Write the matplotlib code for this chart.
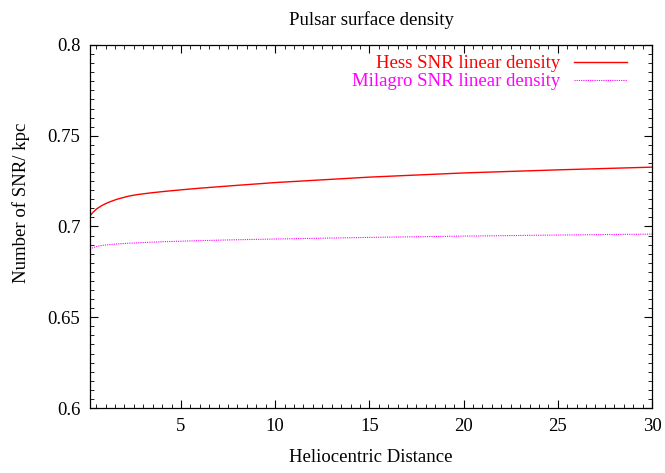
import numpy as np
import matplotlib
matplotlib.use('Agg')
import matplotlib.pyplot as plt
from matplotlib.ticker import MultipleLocator

# valores
dist = [0.17, 0.3, 0.5, 0.7, 0.9, 1.2, 1.6, 2.25, 2.7, 3.3, 4.0, 5.0, 6.0, 7.5, 10.0, 15.0, 20.0, 25.0, 30.0]
hess = [0.7058, 0.7075, 0.7095, 0.7109, 0.7121, 0.7135, 0.7150, 0.7168, 0.7176, 0.7184, 0.7192, 0.7202, 0.7211,
        0.7223, 0.7242, 0.7272, 0.7295, 0.7312, 0.7327]
milagro = [0.6876, 0.6882, 0.6889, 0.6894, 0.6897, 0.6900, 0.6904, 0.6908, 0.6910, 0.6913, 0.6916, 0.6919, 0.6922,
           0.6926, 0.6931, 0.6940, 0.6947, 0.6953, 0.6958]

plt.rcParams['font.family'] = ['Liberation Serif', 'DejaVu Serif']
fs = 13.5

fig = plt.figure(figsize=(6.65, 4.73), dpi=100)
ax = fig.add_axes([0.1353, 0.1374, 0.8451, 0.7675])

ax.plot(dist, hess, color='#ff0000', lw=1.0, label='Hess SNR linear density')
ax.plot(dist, milagro, color='#ff00ff', lw=0.8, linestyle=(0, (1, 1)), label='Milagro SNR linear density')

ax.set_xlim(0.17, 30)
ax.set_ylim(0.6, 0.8)
ax.set_xticks([5, 10, 15, 20, 25, 30])
ax.set_yticks([0.6, 0.65, 0.7, 0.75, 0.8])
ax.set_yticklabels(['0.6', '0.65', '0.7', '0.75', '0.8'])
ax.xaxis.set_minor_locator(MultipleLocator(0.5))
ax.yaxis.set_minor_locator(MultipleLocator(0.005))
ax.tick_params(which='both', direction='in', top=True, right=True, labelsize=fs, pad=7)
ax.tick_params(which='major', length=6, width=0.8)
ax.tick_params(which='minor', length=3, width=0.6)
for s in ax.spines.values():
    s.set_linewidth(0.9)

ax.set_xlabel('Heliocentric Distance', fontsize=fs, labelpad=10)
ax.set_ylabel('Number of SNR/ kpc', fontsize=fs)
ax.yaxis.set_label_coords(-0.107, 0.565)
ax.set_title('Pulsar surface density', fontsize=fs, pad=14.5)

ax.legend(loc='upper right', frameon=False, markerfirst=False, labelcolor='linecolor',
          fontsize=fs, handlelength=2.8, handletextpad=0.75, labelspacing=0.05,
          borderaxespad=0.3, bbox_to_anchor=(0.9786, 1.008))

fig.savefig('out.png', dpi=100)
